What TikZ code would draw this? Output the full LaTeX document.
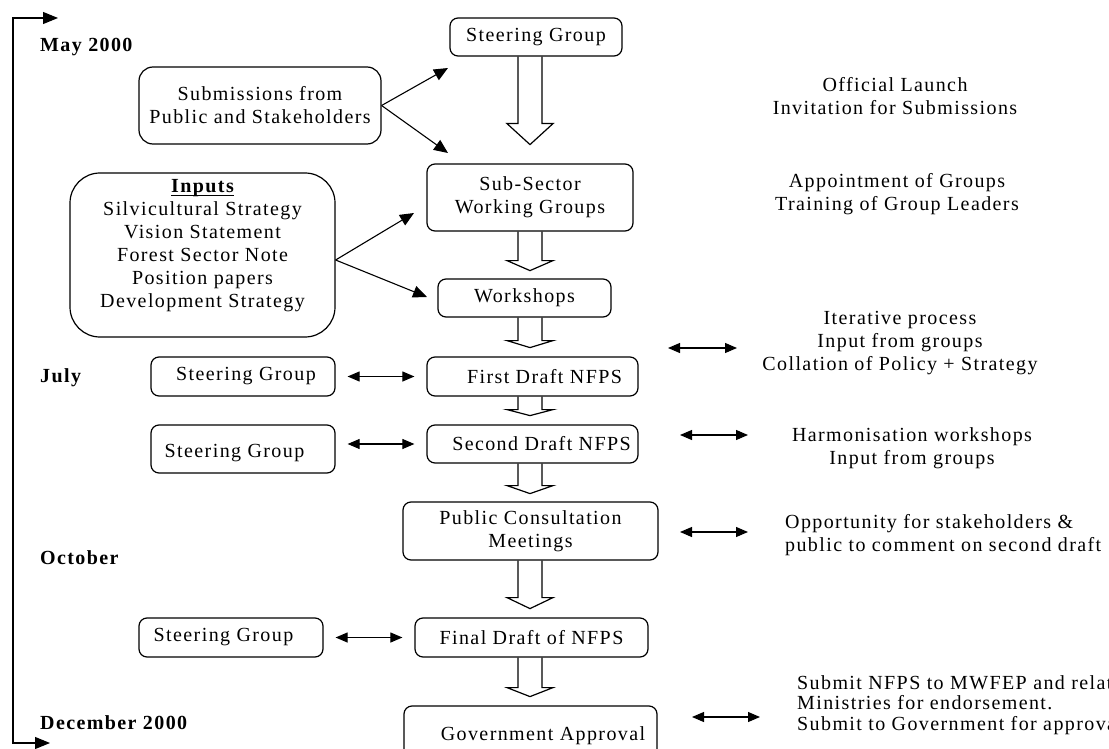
\documentclass[tikz,border=0pt]{standalone}
\usepackage{fontspec}
\setmainfont{Liberation Serif}[LetterSpace=7]
\usetikzlibrary{arrows.meta,calc}
\newcommand\harrow[3]{\draw[hollow] (L |- #1.south) -- ++(0,#2) -- ++(-11,0) -- ++(23,#3) -- ++(23,-#3) -- ++(-11,0) -- (R |- #1.south);}
\newcommand\myul[1]{{\setbox0\hbox{#1}\rlap{\rule[-3.5pt]{\wd0}{1pt}}\box0}}
\begin{document}
\begin{tikzpicture}[x=1pt,y=-1pt,
  font=\fontsize{20}{23}\selectfont,
  box/.style={draw, line width=1.2pt, rounded corners=8pt, inner sep=0pt, align=center},
  note/.style={align=center, inner sep=0pt},
  lbl/.style={anchor=west, inner sep=0pt, font=\fontsize{20}{23}\selectfont\bfseries},
  sarr/.style={line width=1.1pt, -{Triangle[length=14pt,width=12pt]}},
  darr/.style={line width=1.1pt, {Triangle[length=12pt,width=10pt]}-{Triangle[length=12pt,width=10pt]}},
  brk/.style={line width=1.1pt, {Triangle[length=15pt,width=12pt]}-{Triangle[length=15pt,width=12pt]}},
  hollow/.style={line width=1.2pt, line join=miter},
]
\useasboundingbox (0,0) rectangle (1109,749);

% axis coordinates for hollow arrows
\coordinate (L) at (518,0);
\coordinate (R) at (542,0);

% left time bracket
\coordinate (bT) at (58,18);
\coordinate (bM) at (13,380);
\coordinate (bB) at (50,743);
\draw[brk] (bT) -| (bM) |- (bB);

\node[lbl] (may) at (40,47) {May 2000};
\node[lbl] (jul) at (40,378) {July};
\node[lbl] (oct) at (40,558) {October};
\node[lbl] (dec) at (40,723) {December 2000};

% central column
\node[box, minimum width=172pt, minimum height=38pt] (sgTop) at (536,37) {Steering Group};
\node[box, minimum width=206pt, minimum height=67pt] (ssw) at (530,197.5) {Sub-Sector\\Working Groups};
\node[box, minimum width=173pt, minimum height=38pt] (ws) at (524.5,298) {Workshops};
\node[box, minimum width=211pt, minimum height=39pt] (fd) at (532.5,376.5) {\hspace*{24pt}First Draft NFPS};
\node[box, minimum width=211pt, minimum height=38pt] (sd) at (532.5,444) {\hspace*{18pt}Second Draft NFPS};
\node[box, minimum width=255pt, minimum height=58pt] (pcm) at (530.5,531) {Public Consultation\\Meetings};
\node[box, minimum width=233pt, minimum height=39pt] (fin) at (531.5,637.5) {Final Draft of NFPS};
\node[box, minimum width=253pt, minimum height=69pt, text height=13.7pt, text depth=14.3pt] (gov) at (530.5,740.5) {\hspace*{25pt}Government Approval};

% left boxes
\node[box, rounded corners=14pt, minimum width=242pt, minimum height=77pt] (subm) at (260,105.5) {Submissions from\\Public and Stakeholders};
\node[box, rounded corners=30pt, minimum width=265pt, minimum height=164pt] (inp) at (202.5,255) {};
\node[note] (inptext) at (202.5,246) {\myul{\bfseries Inputs}\\Silvicultural Strategy\\Vision Statement\\Forest Sector Note\\Position papers\\Development Strategy};
\node[box, minimum width=184pt, minimum height=39pt] (sg1) at (243,376.5) {Steering Group\hspace*{-6pt}};
\node[box, minimum width=184pt, minimum height=48pt, text height=21.7pt, text depth=4.4pt] (sg2) at (243,449) {Steering Group\hspace*{17pt}};
\node[box, minimum width=184pt, minimum height=39pt] (sg3) at (231,637.5) {Steering Group\hspace*{15pt}};

% hollow arrows
\harrow{sgTop}{67}{21}
\harrow{ssw}{29}{10}
\harrow{ws}{23}{7}
\harrow{fd}{13}{6}
\harrow{sd}{22}{8}
\harrow{pcm}{37}{11}
\harrow{fin}{30}{9}

% single arrows
\coordinate (t1) at (448,68);
\coordinate (t2) at (448,153);
\coordinate (t3) at (414,213);
\coordinate (t4) at (427,297);
\draw[sarr] (subm.east) -- (t1);
\draw[sarr] (subm.east) -- (t2);
\draw[sarr] ([yshift=-5pt]inp.east) -- (t3);
\draw[sarr] ([yshift=-5pt]inp.east) -- (t4);

% left double arrows
\draw[darr] ([xshift=12pt]sg1.east) -- ([xshift=-12pt]fd.west);
\draw[darr] ($(sd.west -| sg2.east)+(12,0)$) -- ([xshift=-12pt]sd.west);
\draw[darr] ([xshift=12pt]sg3.east) -- ([xshift=-12pt]fin.west);

% right notes
\node[note] (n1) at (895,96) {Official Launch\\Invitation for Submissions};
\node[note] (n2) at (897,194) {Appointment of Groups\\Training of Group Leaders};
\node[note] (n3) at (900,343) {Iterative process\\Input from groups\\Collation of Policy + Strategy};
\node[note] (n4) at (912,448) {Harmonisation workshops\\Input from groups};
\node[note, align=left, anchor=west] (n5) at (785,535) {Opportunity for stakeholders \&\\public to comment on second draft};
\node[note, align=left, anchor=west, font=\fontsize{20}{20.5}\selectfont] (n6) at (797,705) {Submit NFPS to MWFEP and related\\Ministries for endorsement.\\Submit to Government for approval};

% right double arrows
\coordinate (r1a) at (668,348); \coordinate (r1b) at (737,348);
\coordinate (r2a) at (680,435); \coordinate (r2b) at (748,435);
\coordinate (r3a) at (680,532); \coordinate (r3b) at (748,532);
\coordinate (r4a) at (692,717); \coordinate (r4b) at (760,717);
\draw[darr] (r1a) -- (r1b);
\draw[darr] (r2a) -- (r2b);
\draw[darr] (r3a) -- (r3b);
\draw[darr] (r4a) -- (r4b);
\end{tikzpicture}
\end{document}
